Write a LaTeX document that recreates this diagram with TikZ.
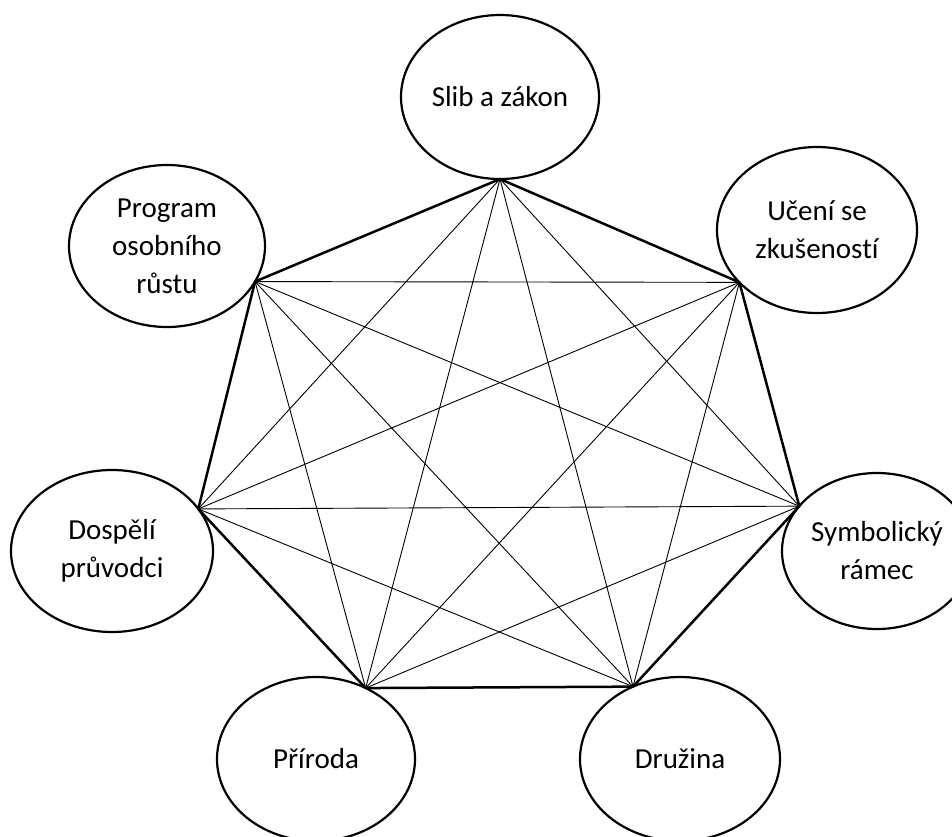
\documentclass[tikz,border=0pt]{standalone}
\usepackage{fontspec}
\setmainfont[Ligatures=NoCommon]{Carlito}
\usetikzlibrary{shapes.geometric}
\begin{document}
\begin{tikzpicture}[x=1pt,y=-1pt,
  bubble/.style={draw, ellipse, line width=2.2pt, inner sep=0pt, outer sep=0pt,
    minimum width=198pt, minimum height=164pt, align=center,
    font=\fontsize{29}{38}\selectfont},
  side/.style={line width=2.5pt, line cap=round},
  diag/.style={line width=0.9pt}]
\useasboundingbox (0,0) rectangle (952,836);
\node[bubble] (slib) at (500,97) {Slib a zákon};
\node[bubble, minimum width=200pt, minimum height=166pt] (ucen) at (817,230) {Učení se\\zkušeností};
\node[bubble, minimum width=190pt, minimum height=156pt] (symb) at (877,551) {Symbolický\\rámec};
\node[bubble, minimum width=200pt] (druz) at (680,759) {Družina};
\node[bubble] (prir) at (316,759) {Příroda};
\node[bubble, minimum width=202pt, minimum height=162pt] (dosp) at (112,551) {Dospělí\\průvodci};
\node[bubble, minimum width=196pt, minimum height=162pt] (prog) at (167,246) {Program\\osobního\\růstu};
\coordinate (pA) at (slib.south);
\coordinate (pB) at (ucen.214);
\coordinate (pC) at (symb.150.6);
\coordinate (pD) at (druz.123.5);
\coordinate (pE) at (prir.55.4);
\coordinate (pF) at (dosp.26.3);
\coordinate (pG) at (prog.338.6);
% sides of the heptagon
\foreach \a/\b in {pA/pB,pB/pC,pC/pD,pD/pE,pE/pF,pF/pG,pG/pA}
  \draw[side] (\a) -- (\b);
% diagonals
\foreach \a/\b in {pA/pC,pA/pD,pA/pE,pA/pF,pB/pD,pB/pE,pB/pF,pB/pG,pC/pE,pC/pF,pC/pG,pD/pF,pD/pG,pE/pG}
  \draw[diag] (\a) -- (\b);
\end{tikzpicture}
\end{document}
